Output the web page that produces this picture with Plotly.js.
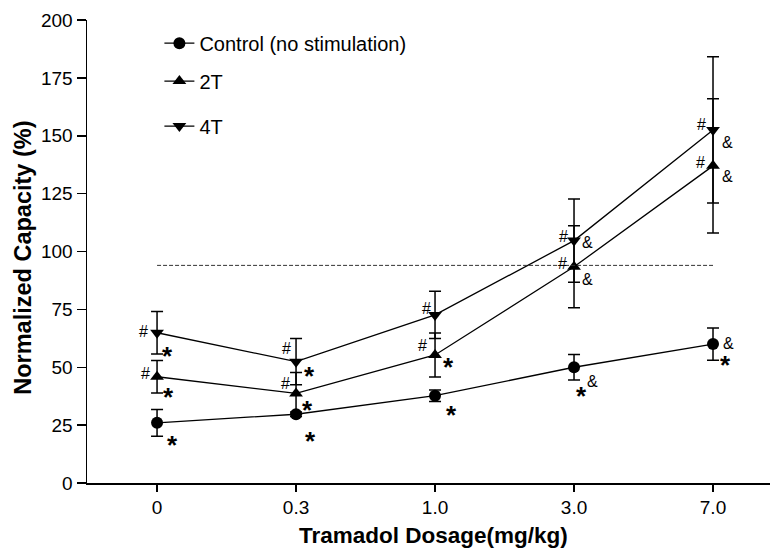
<!DOCTYPE html>
<html>
<head>
<meta charset="utf-8">
<script src="https://cdn.plot.ly/plotly-3.0.1.min.js"></script>
<style>html,body{margin:0;padding:0;background:#fff;}#chart{width:774px;height:552px;}</style>
</head>
<body>
<div id="chart"></div>
<script>
// ---------- data ----------
const dosages = ["0", "0.3", "1.0", "3.0", "7.0"];
const seriesNames = ["Control (no stimulation)", "2T", "4T"];
const controlMean = [26, 29.7, 37.7, 50, 60];
const controlErr  = [5.8, 1, 2.5, 5.5, 7];
const twoTMean    = [45.9, 38.7, 55.3, 93.4, 137];
const twoTErr     = [7, 9, 9.5, 17.7, 29];
const fourTMean   = [64.9, 52.4, 72.6, 104.7, 152.5];
const fourTErr    = [9.2, 10, 10.2, 18, 31.6];
const referenceLevel = 94;
// significance labels per point
const controlSig = [["*"], ["*"], ["*"], ["*", "&"], ["&", "*"]];
const twoTSig    = [["#", "*"], ["#", "*"], ["#", "*"], ["#", "&"], ["#", "&"]];
const fourTSig   = [["#", "*"], ["#", "*"], ["#"], ["#", "&"], ["#", "&"]];
const yTicks = [0, 25, 50, 75, 100, 125, 150, 175, 200];
const xTitle = "Tramadol Dosage(mg/kg)";
const yTitle = "Normalized Capacity (%)";

// ---------- styles ----------
const FONT = "Liberation Sans, Arial, sans-serif";
// label offsets in pixels (dx right, dy down), same shape as the label arrays
const controlOff = [[[15, 16]], [[14, 21]], [[16, 13]], [[7, 23], [18, 14]], [[15, -1], [12, 15]]];
const twoTOff    = [[[-12, -3], [11, 14]], [[-11, -10], [11, 11]], [[-13, -9], [13, 6]], [[-12, -3], [13, 13]], [[-13, -3], [14, 11]]];
const fourTOff   = [[[-14, -1], [10, 17]], [[-10, -13], [13, 8]], [[-9, -6]], [[-11, -4], [13, 2]], [[-12, -5], [14, 13]]];

function series(name, y, err, symbol, size, legendId) {
  return {
    type: "scatter", mode: "lines+markers", name: name,
    x: dosages, y: y,
    line: {color: "#000", width: 1.3},
    marker: {color: "#000", symbol: symbol, size: size},
    error_y: {type: "data", array: err, visible: true, color: "#000", thickness: 1.5, width: 6},
    legend: legendId, showlegend: true, cliponaxis: false
  };
}

const traces = [
  series(seriesNames[0], controlMean, controlErr, "circle", 12, "legend"),
  series(seriesNames[1], twoTMean, twoTErr, "triangle-up", 12, "legend2"),
  series(seriesNames[2], fourTMean, fourTErr, "triangle-down", 12, "legend3"),
  {
    type: "scatter", mode: "lines", x: [dosages[0], dosages[dosages.length - 1]],
    y: [referenceLevel, referenceLevel], showlegend: false, hoverinfo: "skip",
    line: {color: "#333", width: 1, dash: "4px,2px"}
  }
];

const annotations = [];
function addNotes(means, labels, offsets) {
  labels.forEach((labs, i) => {
    labs.forEach((t, j) => {
      const off = offsets[i][j];
      const isStar = t === "*";
      annotations.push({
        x: i, y: means[i], xref: "x", yref: "y", text: t, showarrow: false,
        xshift: off[0], yshift: -(off[1] + (isStar ? 6 : 0)),
        font: {family: FONT, size: isStar ? 26 : 16, color: "#000", weight: isStar ? 700 : 400}
      });
    });
  });
}
addNotes(controlMean, controlSig, controlOff);
addNotes(twoTMean, twoTSig, twoTOff);
addNotes(fourTMean, fourTSig, fourTOff);

// axis titles as free text so they sit exactly where the reference has them
annotations.push({
  text: xTitle, xref: "paper", yref: "paper", x: 0.508, y: -0.113,
  xanchor: "center", yanchor: "middle", showarrow: false,
  font: {family: FONT, size: 22.5, weight: 700, color: "#000"}
});
annotations.push({
  text: yTitle, xref: "paper", yref: "paper", x: -0.094, y: 0.486, textangle: -90,
  xanchor: "center", yanchor: "middle", showarrow: false,
  font: {family: FONT, size: 23.5, weight: 700, color: "#000"}
});

const legendStyle = (y) => ({
  x: 0.106, xanchor: "left", y: y, yanchor: "middle",
  bgcolor: "rgba(0,0,0,0)", borderwidth: 0,
  font: {family: FONT, size: 20, color: "#000"}
});

const layout = {
  width: 774, height: 552,
  margin: {l: 87, r: 4, t: 20, b: 69},
  paper_bgcolor: "#fff", plot_bgcolor: "#fff",
  font: {family: FONT, color: "#000"},
  xaxis: {
    type: "category", categoryorder: "array", categoryarray: dosages,
    range: [-0.504, 4.41],
    showline: true, linecolor: "#000", linewidth: 1.5,
    ticks: "outside", ticklen: 7, tickwidth: 1.5, tickcolor: "#000",
    tickfont: {family: FONT, size: 19, color: "#000"},
    showgrid: false, zeroline: false
  },
  yaxis: {
    range: [0, 200], tickvals: yTicks, ticktext: yTicks.map(String),
    showline: true, linecolor: "#000", linewidth: 1.5,
    ticks: "outside", ticklen: 9, tickwidth: 1.5, tickcolor: "#000",
    tickfont: {family: FONT, size: 19, color: "#000"},
    showgrid: false, zeroline: false
  },
  legend: legendStyle(0.95),
  legend2: legendStyle(0.868),
  legend3: legendStyle(0.771),
  annotations: annotations,
  showlegend: true
};

Plotly.newPlot("chart", traces, layout, {displayModeBar: false, staticPlot: true});
</script>
</body>
</html>
